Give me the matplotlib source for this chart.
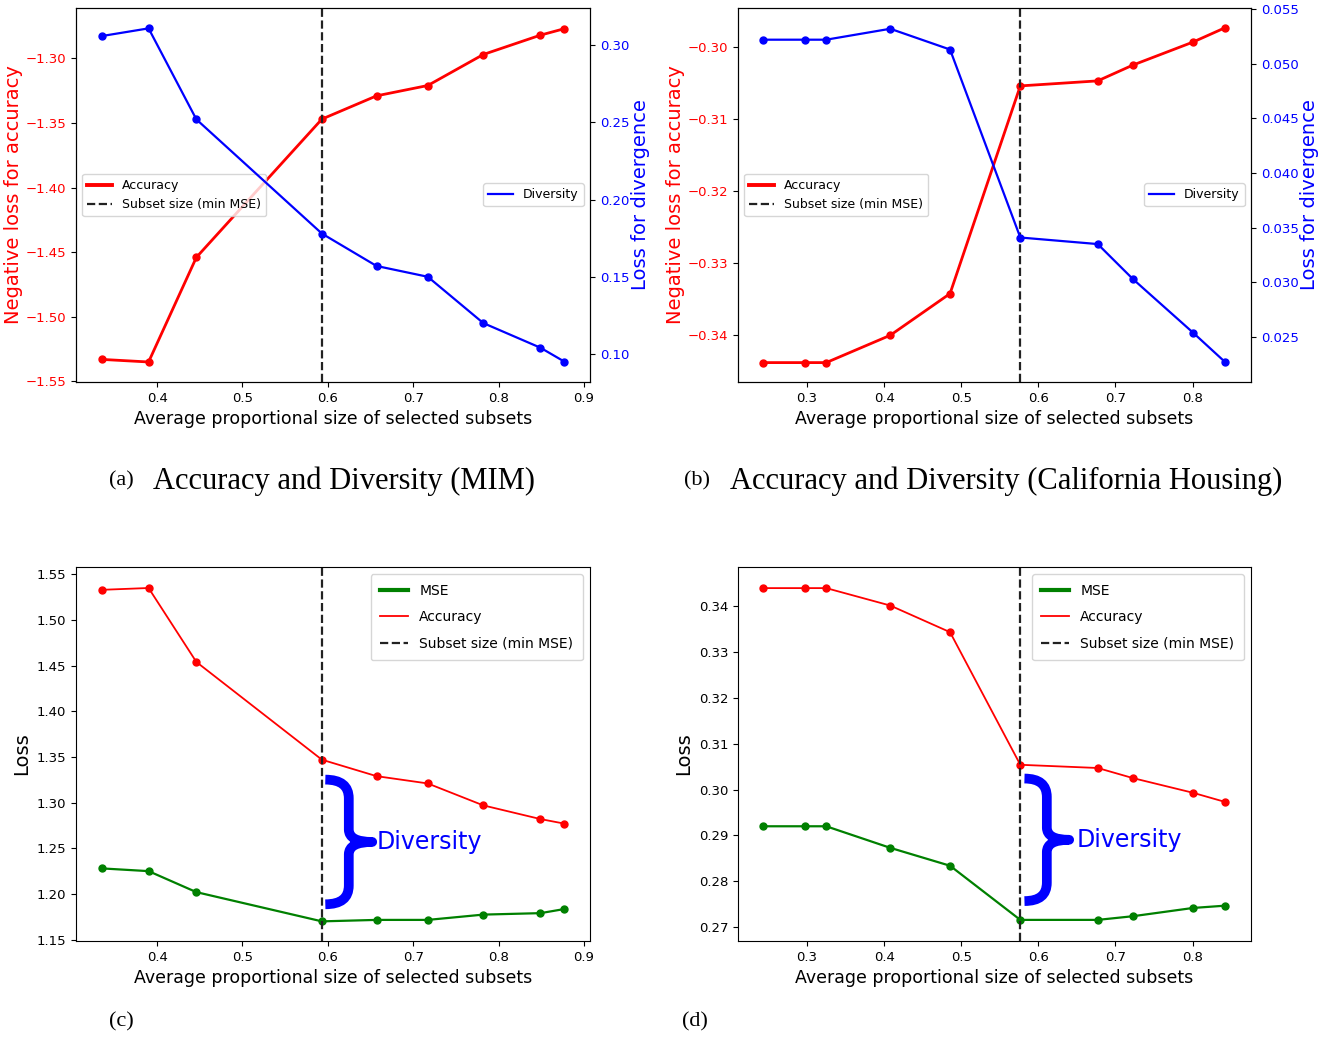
import matplotlib
matplotlib.use("Agg")
import matplotlib.pyplot as plt
from matplotlib.path import Path
from matplotlib.patches import PathPatch

# MIM data
x_mim = [0.335, 0.390, 0.446, 0.593, 0.657, 0.717, 0.782, 0.849, 0.877]
acc_mim = [1.533, 1.535, 1.454, 1.347, 1.329, 1.321, 1.297, 1.282, 1.277]
div_mim = [0.306, 0.311, 0.252, 0.178, 0.157, 0.150, 0.120, 0.104, 0.095]
mse_mim = [1.228, 1.225, 1.202, 1.170, 1.1716, 1.1716, 1.1774, 1.179, 1.1835]
best_mim = 0.593

# California Housing data
x_cal = [0.2435, 0.298, 0.325, 0.408, 0.4855, 0.5766, 0.677, 0.7226, 0.8005, 0.8422]
acc_cal = [0.3439, 0.3439, 0.3439, 0.3401, 0.3343, 0.3054, 0.3047, 0.3025, 0.2993, 0.2973]
div_cal = [0.0522, 0.0522, 0.0522, 0.0532, 0.0513, 0.0341, 0.0335, 0.0303, 0.0254, 0.0227]
mse_cal = [0.2920, 0.2920, 0.2920, 0.2873, 0.2834, 0.2716, 0.2716, 0.2724, 0.2742, 0.2747]
best_cal = 0.5766

xlabel = 'Average proportional size of selected subsets'
W, H = 1322, 1037
fig = plt.figure(figsize=(W / 100, H / 100), dpi=100)


def box(l, t, r, b):
    return [l / W, 1 - b / H, (r - l) / W, (b - t) / H]


def no_markers(leg):
    for line in leg.get_lines():
        line.set_marker('None')


def top_panel(rect, x, acc, div, best, xlim, ylim, ylim2, yt, yt2, fmt2):
    ax = fig.add_axes(rect)
    ax.plot(x, [-v for v in acc], color='red', lw=2, marker='o', ms=5, label='Accuracy')
    ax.axvline(best, color='#222222', ls='--', lw=1.6, label='Subset size (min MSE)')
    ax.set_xlim(xlim)
    ax.set_ylim(ylim)
    ax.set_yticks(yt)
    ax.set_yticklabels(['\u2212%.2f' % abs(v) for v in yt])
    ax.tick_params(axis='y', colors='black', labelcolor='red', labelsize=9.5)
    ax.tick_params(axis='x', labelsize=9.5)
    ax.set_ylabel('Negative loss for accuracy', color='red', fontsize=14, labelpad=2)
    ax.set_xlabel(xlabel, fontsize=12.5)
    leg = ax.legend(loc='center left', fontsize=9)
    no_markers(leg)
    leg.get_lines()[0].set_linewidth(2.8)

    ax2 = ax.twinx()
    ax2.plot(x, div, color='blue', lw=1.6, marker='o', ms=5, label='Diversity')
    ax2.set_ylim(ylim2)
    ax2.set_yticks(yt2)
    ax2.set_yticklabels([fmt2 % v for v in yt2])
    ax2.tick_params(axis='y', labelcolor='blue', labelsize=9.5)
    ax2.set_ylabel('Loss for divergence', color='blue', fontsize=14, labelpad=1)
    no_markers(ax2.legend(loc='center right', fontsize=9))
    return ax


def brace(ax, x0, x1, y0, y1):
    xm = (x0 + x1) / 2
    ym = (y0 + y1) / 2
    h = y1 - y0
    verts = [(x0, y1), (xm, y1), (xm, y1 - 0.15 * h),
             (xm, ym + 0.1 * h), (xm, ym), (x1, ym),
             (xm, ym), (xm, ym - 0.1 * h),
             (xm, y0 + 0.15 * h), (xm, y0), (x0, y0)]
    codes = [Path.MOVETO, Path.CURVE3, Path.CURVE3,
             Path.LINETO, Path.CURVE3, Path.CURVE3,
             Path.CURVE3, Path.CURVE3,
             Path.LINETO, Path.CURVE3, Path.CURVE3]
    ax.add_patch(PathPatch(Path(verts, codes), fill=False, edgecolor='blue',
                           lw=7, capstyle='butt', joinstyle='round'))


def bottom_panel(rect, x, acc, mse, best, xlim, ylim, yt, bx, by):
    ax = fig.add_axes(rect)
    ax.plot(x, mse, color='green', lw=1.6, marker='o', ms=5, label='MSE')
    ax.plot(x, acc, color='red', lw=1.3, marker='o', ms=5, label='Accuracy')
    ax.axvline(best, color='#222222', ls='--', lw=1.6, label='Subset size (min MSE)')
    ax.set_xlim(xlim)
    ax.set_ylim(ylim)
    ax.set_yticks(yt)
    ax.set_yticklabels(['%.2f' % v for v in yt])
    ax.tick_params(labelsize=9.5)
    ax.set_ylabel('Loss', fontsize=14)
    ax.set_xlabel(xlabel, fontsize=12.5)
    leg = ax.legend(loc='upper right', fontsize=10, borderpad=0.7, labelspacing=0.9)
    no_markers(leg)
    leg.get_lines()[0].set_linewidth(3)
    brace(ax, bx[0], bx[1], by[0], by[1])
    ax.text(bx[2], (by[0] + by[1]) / 2, 'Diversity', color='blue', fontsize=17,
            ha='left', va='center')
    return ax


top_panel(box(76, 8, 590, 382), x_mim, acc_mim, div_mim, best_mim,
          (0.305, 0.907), (-1.5505, -1.261), (0.0818, 0.3242),
          [-1.55, -1.50, -1.45, -1.40, -1.35, -1.30],
          [0.10, 0.15, 0.20, 0.25, 0.30], '%.2f')
top_panel(box(738, 8, 1251, 382), x_cal, acc_cal, div_cal, best_cal,
          (0.2106, 0.8757), (-0.3466, -0.29456), (0.02088, 0.0551),
          [-0.34, -0.33, -0.32, -0.31, -0.30],
          [0.025, 0.030, 0.035, 0.040, 0.045, 0.050, 0.055], '%.3f')

bottom_panel(box(76, 567, 590, 941), x_mim, acc_mim, mse_mim, best_mim,
             (0.305, 0.907), (1.1485, 1.558),
             [1.15, 1.20, 1.25, 1.30, 1.35, 1.40, 1.45, 1.50, 1.55],
             (0.597, 0.652, 0.657), (1.1887, 1.3252))
bottom_panel(box(738, 567, 1251, 941), x_cal, acc_cal, mse_cal, best_cal,
             (0.2106, 0.8757), (0.2670, 0.3485),
             [0.27, 0.28, 0.29, 0.30, 0.31, 0.32, 0.33, 0.34],
             (0.582, 0.640, 0.649), (0.2757, 0.3024))

serif = 'Liberation Serif'
fig.text(109 / W, 1 - 481 / H, '(a)', family=serif, fontsize=16, va='center')
fig.text(153 / W, 1 - 481 / H, 'Accuracy and Diversity (MIM)', family=serif,
         fontsize=22, va='center')
fig.text(684 / W, 1 - 481 / H, '(b)', family=serif, fontsize=16, va='center')
fig.text(730 / W, 1 - 481 / H, 'Accuracy and Diversity (California Housing)',
         family=serif, fontsize=22, va='center')
fig.text(109 / W, 1 - 1022 / H, '(c)', family=serif, fontsize=16, va='center')
fig.text(682 / W, 1 - 1022 / H, '(d)', family=serif, fontsize=16, va='center')

fig.savefig('out.png', dpi=100)
